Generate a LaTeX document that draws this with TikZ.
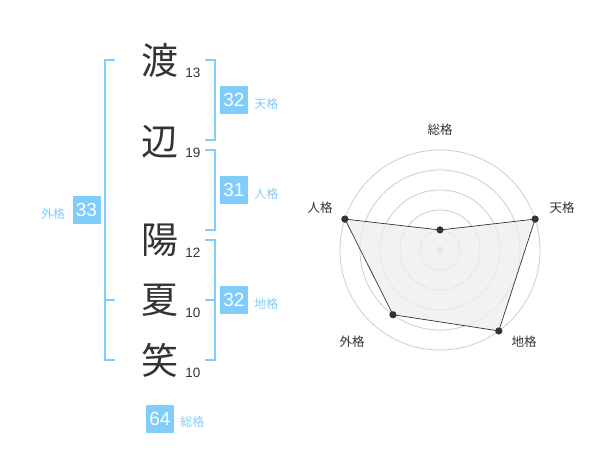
\documentclass[tikz,border=0pt]{standalone}
\usepackage{fontspec}
\setmainfont{Liberation Sans}
\newfontfamily\cjk{Noto Sans CJK JP}
\usepackage{tikz}
\usetikzlibrary{positioning,calc}
\definecolor{ink}{HTML}{333333}
\definecolor{sky}{RGB}{128,204,250}
\definecolor{ringgrey}{HTML}{CCCCCC}
\definecolor{polyfill}{HTML}{EEEEEE}

\begin{document}
\begin{tikzpicture}[x=1pt,y=1pt,
    kanji/.style={font=\cjk\fontsize{37}{40}\selectfont, text=ink, inner sep=0pt},
    strokes/.style={font=\fontsize{13.5}{15}\selectfont, text=ink, inner sep=0pt},
    score/.style={fill=sky, text=white, minimum size=28pt, inner sep=0pt, font=\fontsize{19}{19}\selectfont},
    kaku/.style={font=\cjk\fontsize{12}{14}\selectfont, text=sky, inner sep=0pt},
    brk/.style={draw=sky, line width=1.6pt},
    ring/.style={draw=ringgrey, line width=0.8pt},
    axislbl/.style={font=\cjk\fontsize{12.5}{14}\selectfont, text=ink, inner sep=0pt},
    dot/.style={circle, fill=ink, inner sep=0pt, minimum size=7pt}]
    \useasboundingbox (0,0) rectangle (600,470);

    % Name
    \node[kanji] (k1) at (160,410) {渡};
    \node[kanji] (k2) at (160,328) {辺};
    \node[kanji] (k3) at (160,230) {陽};
    \node[kanji] (k4) at (160,170) {夏};
    \node[kanji] (k5) at (160,110) {笑};

    % Strokes
    \node[strokes] (s1) at (193,397) {13};
    \node[strokes] (s2) at (193,317) {19};
    \node[strokes] (s3) at (193,217) {12};
    \node[strokes] (s4) at (193,157) {10};
    \node[strokes] (s5) at (193,97) {10};

    % Brackets
    \draw[brk] (205,410) -- (215,410) -- (215,330) -- (205,330);
    \draw[brk] (205,320) -- (215,320) -- (215,240) -- (205,240);
    \draw[brk] (205,230) -- (215,230) -- (215,110) -- (205,110);
    \draw[brk] (205,170) -- (215,170);
    \draw[brk] (115,410) -- (105,410) -- (105,110) -- (115,110);
    \draw[brk] (105,170) -- (115,170);

    % Scores
    \node[score] (ten) at (234,370) {32};
    \node[kaku, right=6pt of ten, yshift=-4pt] (tenl) {天格};
    \node[score] (jin) at (234,280) {31};
    \node[kaku, right=6pt of jin, yshift=-4pt] (jinl) {人格};
    \node[score] (chi) at (234,170) {32};
    \node[kaku, right=6pt of chi, yshift=-4pt] (chil) {地格};
    \node[score] (gai) at (86.5,260) {33};
    \node[kaku, left=7pt of gai, yshift=-4pt] (gail) {外格};
    \node[score] (sou) at (160,51) {64};
    \node[kaku, right=6pt of sou, yshift=-3pt] (soul) {総格};

    % Radar
    \coordinate (o) at (440,220);
    \foreach \r in {20,40,60,80,100}
        \draw[ring] (o) circle (\r);
    \fill[ringgrey] (o) circle (3.5);

    \node[dot] (d1) at ($(o)+(90:20)$) {};
    \node[dot] (d2) at ($(o)+(18:100)$) {};
    \node[dot] (d3) at ($(o)+(-54:100)$) {};
    \node[dot] (d4) at ($(o)+(-126:80)$) {};
    \node[dot] (d5) at ($(o)+(162:100)$) {};
    \draw[fill=polyfill, fill opacity=0.75, draw=ink, line width=0.7pt]
        (d1.center) -- (d2.center) -- (d3.center) -- (d4.center) -- (d5.center) -- cycle;
    \foreach \d in {d1,d2,d3,d4,d5}
        \fill[ink] (\d) circle (3.5);

    % Labels
    \node[axislbl] (a1) at ($(o)+(0,120)$) {総格};
    \node[axislbl] (a2) at ($(o)+(122,42)$) {天格};
    \node[axislbl] (a3) at ($(o)+(84,-92)$) {地格};
    \node[axislbl] (a4) at ($(o)+(-88,-92)$) {外格};
    \node[axislbl] (a5) at ($(o)+(-120,42)$) {人格};

\end{tikzpicture}
\end{document}
